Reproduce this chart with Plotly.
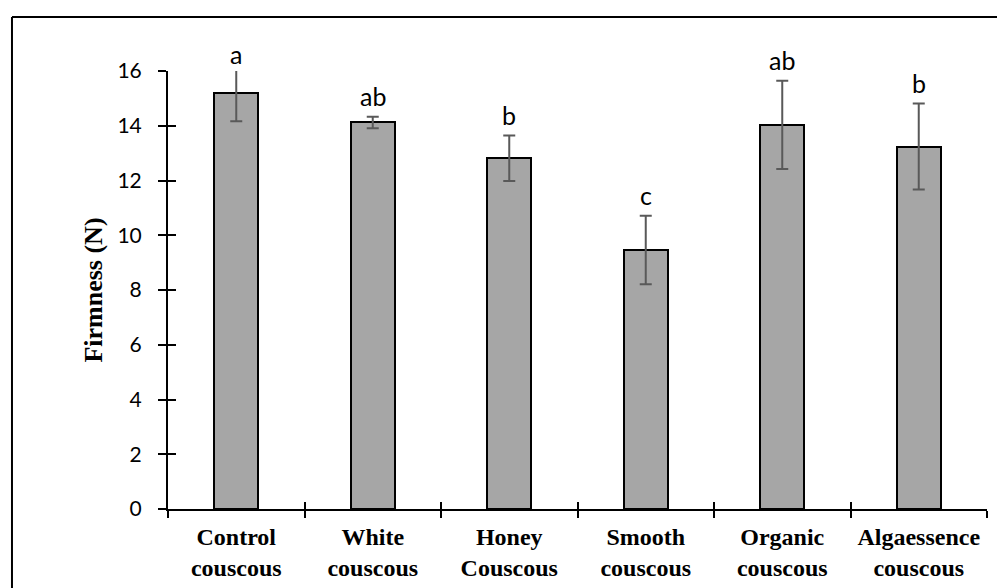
import plotly.graph_objects as go

categories = ["Control<br>couscous", "White<br>couscous", "Honey<br>Couscous",
              "Smooth<br>couscous", "Organic<br>couscous", "Algaessence<br>couscous"]
firmness = [15.21, 14.12, 12.81, 9.46, 14.03, 13.24]
errors = [1.05, 0.21, 0.83, 1.25, 1.61, 1.57]
letters = ["a", "ab", "b", "c", "ab", "b"]
y_ticks = [0, 2, 4, 6, 8, 10, 12, 14, 16]
y_max = 16

fig = go.Figure()
fig.add_trace(go.Bar(
    x=categories, y=firmness, width=0.32,
    marker=dict(color="#A6A6A6", line=dict(color="black", width=2)),
    error_y=dict(type="data", array=errors, color="#595959", thickness=2, width=6),
    showlegend=False, hoverinfo="skip",
))
# invisible copy so the overlay axes (crossing tick halves) get categories
fig.add_trace(go.Scatter(x=categories, y=firmness, mode="none", xaxis="x2", yaxis="y2",
                         showlegend=False, hoverinfo="skip"))

for cat, v, e, lab in zip(categories, firmness, errors, letters):
    # letters sit just above the error bar, kept inside the axis top
    fig.add_annotation(x=cat, y=min(v + e, y_max - 0.15), text=lab, showarrow=False,
                       yanchor="bottom", yshift=4,
                       font=dict(family="Lato", size=25, color="black"))

tick_font = dict(family="Lato", size=21, color="black")
# page body adds an 8px offset, so the figure is 8px smaller with matching margins
fig.update_layout(
    width=997, height=580,
    margin=dict(l=160, r=18, t=63, b=79),
    paper_bgcolor="white", plot_bgcolor="white",
    bargap=0,
    xaxis=dict(showline=True, linecolor="black", linewidth=2, ticks="outside",
               tickson="boundaries", ticklen=7, tickwidth=2, tickcolor="black",
               range=[-0.5, 5.5], ticklabelstandoff=5, automargin=False,
               tickfont=dict(family="Liberation Serif", size=24, color="black", weight="bold")),
    yaxis=dict(range=[0, y_max], tickvals=y_ticks, showline=True, linecolor="black",
               linewidth=2, ticks="outside", ticklen=8, tickwidth=2, tickcolor="black",
               showgrid=False, zeroline=False, tickfont=tick_font, ticklabelstandoff=12,
               automargin=False,
               title=dict(text="Firmness (N)", standoff=7,
                          font=dict(family="Liberation Serif", size=26, color="black",
                                    weight="bold"))),
    xaxis2=dict(overlaying="x", matches="x", ticks="inside", tickson="boundaries",
                ticklen=7, tickwidth=2, tickcolor="black", showticklabels=False,
                showgrid=False, showline=False, automargin=False),
    yaxis2=dict(overlaying="y", range=[0, y_max], tickvals=y_ticks, ticks="inside",
                ticklen=8, tickwidth=2, tickcolor="black", showticklabels=False,
                showgrid=False, zeroline=False, showline=False, side="left",
                automargin=False),
)

# outer frame of the original figure (right and bottom edges fall off the image)
fig.add_shape(type="line", xref="paper", yref="paper", x0=-0.1905, x1=1.05,
              y0=1.1233, y1=1.1233, line=dict(color="black", width=2))
fig.add_shape(type="line", xref="paper", yref="paper", x0=-0.1905, x1=-0.1905,
              y0=1.1233, y1=-0.25, line=dict(color="black", width=2))

fig.write_html("out.html")
